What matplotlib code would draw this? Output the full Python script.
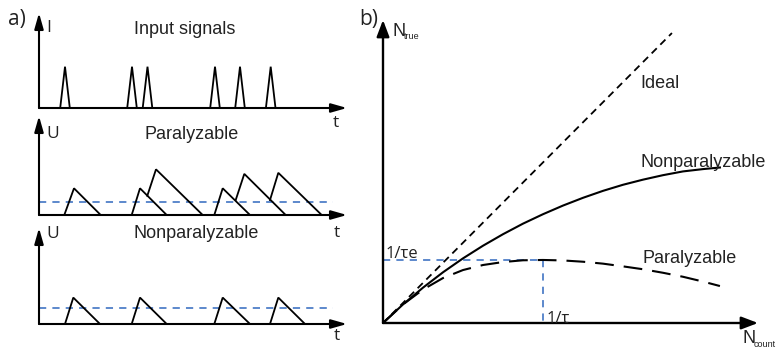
import matplotlib
matplotlib.use("Agg")
import matplotlib.pyplot as plt

W, H = 779, 351

# ---------------- data ----------------
# panel a, top: input pulse centres (time units), half width, height
input_times = [2.6, 9.3, 10.85, 17.6, 20.1, 23.17]
input_halfwidth = 0.48
input_height = 1.0

# panel a, middle (paralyzable): start t, start U, peak t, peak U, end t
para_start_t = [2.53, 9.27, 10.83, 17.53, 19.67, 23.10]
para_start_u = [0.0, 0.0, 0.72, 0.0, 0.56, 0.56]
para_peak_t = [3.50, 10.10, 11.70, 18.37, 20.53, 23.93]
para_peak_u = [1.0, 1.0, 1.71, 1.0, 1.54, 1.58]
para_end_t = [6.17, 12.77, 16.37, 21.10, 24.67, 28.27]
para_threshold = 0.48

# panel a, bottom (nonparalyzable)
nonp_start_t = [2.60, 9.27, 17.53, 23.10]
nonp_peak_t = [3.43, 10.10, 18.37, 23.93]
nonp_end_t = [6.10, 12.77, 21.10, 26.60]
nonp_peak_u = 1.0
nonp_threshold = 0.59
threshold_t = [0.0, 29.4]

# panel b curves (N_count in units of 1/tau)
ideal_x = [0.0, 1.806]
ideal_y = [0.0, 1.8125]
curve_x = [0.0, 0.125, 0.25, 0.375, 0.5, 0.625, 0.75, 0.875, 1.0, 1.125,
           1.25, 1.375, 1.5, 1.625, 1.75, 1.875, 2.0, 2.106]
nonpar_y = [0.0, 0.116, 0.221, 0.317, 0.404, 0.483, 0.555, 0.621, 0.680,
            0.734, 0.7825, 0.826, 0.864, 0.896, 0.924, 0.9475, 0.962, 0.972]
par_y = [0.0, 0.116, 0.209, 0.281, 0.331, 0.3625, 0.381, 0.392, 0.394,
         0.391, 0.383, 0.371, 0.354, 0.336, 0.314, 0.289, 0.259, 0.231]
peak_x = 1.0
peak_y = 0.394

BLUE = "#4f7fc8"
TXT = "#222222"
SANS = ["Liberation Sans", "DejaVu Sans"]
MYR = ["Open Sans", "DejaVu Sans"]

fig = plt.figure(figsize=(W / 100, H / 100), dpi=100)


def rect(x0, y0, x1, y1):
    return [x0 / W, 1 - y1 / H, (x1 - x0) / W, (y1 - y0) / H]


def P(x, y):
    return x / W, 1 - y / H


def arrows(ax, xmax, ymax, lw, hl, hw):
    style = f"-|>,head_length={hl},head_width={hw}"
    kw = dict(arrowstyle=style, lw=lw, color="black", shrinkA=0, shrinkB=0)
    ax.annotate("", xy=(xmax, 0), xytext=(0, 0), arrowprops=kw,
                annotation_clip=False)
    ax.annotate("", xy=(0, ymax), xytext=(0, 0), arrowprops=kw,
                annotation_clip=False)


def setup(ax, xmax, ymax):
    ax.set_xlim(0, xmax)
    ax.set_ylim(0, ymax)
    ax.axis("off")


# ---------- panel a top ----------
ax1 = fig.add_axes(rect(39, 13, 347, 108))
setup(ax1, 30.8, 2.30)
for c in input_times:
    ax1.plot([c - input_halfwidth, c, c + input_halfwidth], [0, input_height, 0],
             color="black", lw=1.3, clip_on=False, solid_joinstyle="miter")
arrows(ax1, 30.8, 2.30, 1.5, 0.95, 0.27)

# ---------- panel a middle ----------
ax2 = fig.add_axes(rect(39, 116, 347, 215))
setup(ax2, 30.8, 3.708)
ax2.plot(threshold_t, [para_threshold] * 2, color=BLUE, lw=1.3,
         dashes=(4.0, 3.4))
for s, su, p, pu, e in zip(para_start_t, para_start_u, para_peak_t,
                           para_peak_u, para_end_t):
    ax2.plot([s, p, e], [su, pu, 0], color="black", lw=1.3,
             solid_joinstyle="miter")
arrows(ax2, 30.8, 3.708, 1.5, 0.95, 0.27)

# ---------- panel a bottom ----------
ax3 = fig.add_axes(rect(39, 228, 347, 324))
setup(ax3, 30.8, 3.636)
ax3.plot(threshold_t, [nonp_threshold] * 2, color=BLUE, lw=1.3,
         dashes=(4.0, 3.4))
for s, p, e in zip(nonp_start_t, nonp_peak_t, nonp_end_t):
    ax3.plot([s, p, e], [0, nonp_peak_u, 0], color="black", lw=1.3,
             solid_joinstyle="miter")
arrows(ax3, 30.8, 3.636, 1.5, 0.95, 0.27)

# ---------- panel b ----------
axb = fig.add_axes(rect(383, 20, 758, 323))
setup(axb, 2.344, 1.894)
axb.plot([0, peak_x], [peak_y, peak_y], color=BLUE, lw=1.3, dashes=(4.0, 3.4))
axb.plot([peak_x, peak_x], [peak_y, 0], color=BLUE, lw=1.3, dashes=(4.0, 3.4))
axb.plot(ideal_x, ideal_y, color="black", lw=1.3, dashes=(4.0, 2.8))
axb.plot(curve_x, nonpar_y, color="black", lw=1.5)
axb.plot(curve_x, par_y, color="black", lw=1.5, dashes=(9.0, 4.8))
arrows(axb, 2.344, 1.894, 1.7, 1.0, 0.38)

# ---------- texts ----------
TS = 13
kw = dict(color=TXT, va="baseline")
fig.text(*P(8, 25), "a)", family=MYR, fontsize=15, **kw)
fig.text(*P(46, 32), "I", family=MYR, fontsize=12.5, **kw)
fig.text(*P(185, 33.5), "Input signals", family=SANS, fontsize=TS,
         ha="center", **kw)
fig.text(*P(336, 127), "t", family=MYR, fontsize=12.5, ha="center", **kw)

fig.text(*P(46, 138), "U", family=MYR, fontsize=12.5, **kw)
fig.text(*P(192, 139), "Paralyzable", family=SANS, fontsize=TS,
         ha="center", **kw)
fig.text(*P(337, 237), "t", family=MYR, fontsize=12.5, ha="center", **kw)

fig.text(*P(46, 238), "U", family=MYR, fontsize=12.5, **kw)
fig.text(*P(196, 238), "Nonparalyzable", family=SANS, fontsize=TS,
         ha="center", **kw)
fig.text(*P(337, 340), "t", family=MYR, fontsize=12.5, ha="center", **kw)

fig.text(*P(359, 25), "b)", family=MYR, fontsize=15, **kw)
fig.text(*P(392, 36), "N", family=SANS, fontsize=TS, **kw)
fig.text(*P(404, 39), "true", family=SANS, fontsize=6.5, **kw)
fig.text(*P(640, 88), "Ideal", family=SANS, fontsize=TS, **kw)
fig.text(*P(640, 167), "Nonparalyzable", family=SANS, fontsize=TS, **kw)
fig.text(*P(642, 263), "Paralyzable", family=SANS, fontsize=TS, **kw)
fig.text(*P(386, 258), "1/\u03c4e", family=MYR, fontsize=12, **kw)
fig.text(*P(547, 323), "1/\u03c4", family=MYR, fontsize=12, **kw)
fig.text(*P(742, 343), "N", family=SANS, fontsize=TS, **kw)
fig.text(*P(754, 347), "count", family=SANS, fontsize=6.5, **kw)

fig.savefig("out.png", dpi=100)
